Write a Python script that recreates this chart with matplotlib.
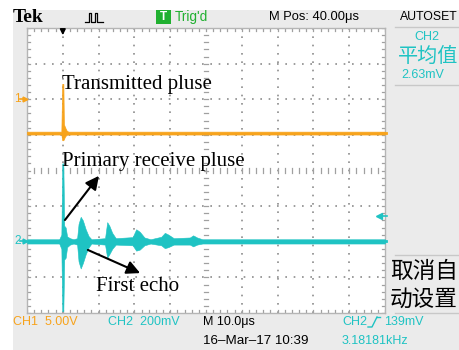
import matplotlib
matplotlib.use("Agg")
import matplotlib.pyplot as plt
from matplotlib.patches import Rectangle
from matplotlib.lines import Line2D

# ---------------- data (x in divisions, y in divisions) -------------
ch1_t  = [0.0, 0.96, 0.985, 1.0, 1.015, 1.03, 1.06, 1.10, 1.15, 10.0]
ch1_hi = [1.09, 1.09, 2.43, 2.43, 2.43, 1.30, 1.22, 1.13, 1.09, 1.09]
ch1_lo = [1.01, 1.01, 0.85, 0.85, 0.85, 0.88, 0.95, 1.00, 1.01, 1.01]

ch2_t  = [0.0, 0.90, 0.96, 0.985, 1.0, 1.015, 1.04, 1.08, 1.12, 1.20, 1.30, 1.40, 1.44,
          1.50, 1.56, 1.64, 1.72, 1.80, 2.18, 2.24, 2.30, 2.38, 2.48, 2.95, 3.05, 3.15,
          3.28, 3.45, 3.75, 3.85, 3.95, 4.10, 4.55, 4.64, 4.75, 4.90, 10.0]
ch2_hi = [-1.93, -1.93, -1.80, 0.20, 0.20, 0.20, -1.55, -1.60, -1.85, -1.90, -1.93, -1.90, -1.50,
          -1.30, -1.40, -1.65, -1.84, -1.93, -1.90, -1.45, -1.55, -1.75, -1.90, -1.87, -1.65, -1.72,
          -1.88, -1.93, -1.86, -1.75, -1.80, -1.90, -1.88, -1.82, -1.88, -1.93, -1.93]
ch2_lo = [-2.05, -2.05, -2.20, -3.95, -3.95, -3.95, -2.50, -2.45, -2.15, -2.08, -2.05, -2.08, -2.55,
          -2.75, -2.60, -2.35, -2.16, -2.05, -2.08, -2.45, -2.35, -2.20, -2.08, -2.10, -2.25, -2.22,
          -2.10, -2.05, -2.10, -2.18, -2.15, -2.08, -2.08, -2.13, -2.08, -2.05, -2.05]

labels = ["Transmitted pluse", "Primary receive pluse", "First echo"]
header = ["Tek", "Trig'd", "M Pos: 40.00\u03bcs", "AUTOSET"]
footer = ["CH1  5.00V", "CH2  200mV", "M 10.0\u03bcs", "16\u2013Mar\u201317 10:39", "CH2", "139mV", "3.18181kHz"]
side = ["CH2", "平均值", "2.63mV", "取消自", "动设置"]

# ---------------- style ----------------
ORANGE = "#f7a31c"
CYAN = "#1fc3c3"
GREEN = "#20b030"
BG = "#ebebeb"
W, H = 460, 350

UI = "Liberation Sans"
SERIF = "Liberation Serif"
CJK = ["Noto Sans CJK SC", "DejaVu Sans"]

fig = plt.figure(figsize=(W / 100, H / 100), dpi=100)
fig.patch.set_facecolor("white")


def fx(x):
    return x / W


def fy(y):
    return 1 - y / H


def ftext(x, y, s, **kw):
    kw.setdefault("va", "center")
    kw.setdefault("ha", "left")
    fig.text(fx(x), fy(y), s, **kw)


def fline(xs, ys, **kw):
    fig.add_artist(Line2D([fx(v) for v in xs], [fy(v) for v in ys], **kw))


def frect(x0, y0, x1, y1, **kw):
    fig.add_artist(Rectangle((fx(x0), fy(y1)), fx(x1) - fx(x0), fy(y0) - fy(y1), **kw))


# screen background
frect(13, 10, 460, 350, facecolor=BG, edgecolor="none", zorder=0)

# ---------------- graticule ----------------
gx0, gy0, gx1, gy1 = 27, 28, 385, 313
ax = fig.add_axes([fx(gx0), fy(gy1), fx(gx1) - fx(gx0), fy(gy0) - fy(gy1)])
ax.set_xlim(0, 10)
ax.set_ylim(-4, 4)
ax.set_facecolor("white")
ax.set_xticks([])
ax.set_yticks([])
for s in ax.spines.values():
    s.set_color("#b5b5b5")
    s.set_linewidth(1.0)

dot_kw = dict(color="#8c8c8c", linestyle=(0, (1, 4)), linewidth=1.2, zorder=1)
for gx in range(1, 10):
    if gx != 5:
        ax.plot([gx, gx], [-4, 4], **dot_kw)
for gy in range(-3, 4):
    if gy != 0:
        ax.plot([0, 10], [gy, gy], **dot_kw)
tick_c = "#a0a0a0"
k = 0
while k <= 50:
    v = k * 0.2
    ax.plot([v, v], [-0.06, 0.06], color=tick_c, lw=0.9, zorder=1)
    ax.plot([v, v], [3.92, 4.0], color=tick_c, lw=0.9, zorder=1)
    ax.plot([v, v], [-4.0, -3.92], color=tick_c, lw=0.9, zorder=1)
    k += 1
k = 0
while k <= 40:
    v = -4 + k * 0.2
    ax.plot([4.94, 5.06], [v, v], color=tick_c, lw=0.9, zorder=1)
    ax.plot([0, 0.08], [v, v], color=tick_c, lw=0.9, zorder=1)
    ax.plot([9.92, 10], [v, v], color=tick_c, lw=0.9, zorder=1)
    k += 1

# ---------------- traces ----------------
ax.fill_between(ch1_t, ch1_lo, ch1_hi, color=ORANGE, lw=0.5, edgecolor=ORANGE, zorder=3)
ax.fill_between(ch2_t, ch2_lo, ch2_hi, color=CYAN, lw=0.4, edgecolor=CYAN, zorder=3)

# trigger position arrow
ax.annotate("", xy=(1.0, 3.72), xytext=(1.0, 4.0),
            arrowprops=dict(arrowstyle="-|>", color="black", lw=1.2, mutation_scale=8),
            zorder=5)

# ---------------- annotations ----------------
tkw = dict(family=SERIF, fontsize=15, color="black", va="center", ha="left", zorder=6)
ax.text(0.98, 2.40, labels[0], **tkw)
ax.text(0.98, 0.24, labels[1], **tkw)
ax.text(1.93, -3.27, labels[2], **tkw)
akw = dict(arrowstyle="-|>", color="black", lw=1.5, mutation_scale=20, shrinkA=0, shrinkB=0)
ax.annotate("", xy=(2.01, -0.15), xytext=(1.06, -1.39), arrowprops=akw, zorder=6)
ax.annotate("", xy=(3.16, -2.88), xytext=(1.70, -2.23), arrowprops=akw, zorder=6)

# ---------------- channel markers ----------------
ftext(14, 99, "1", family=UI, fontsize=8.5, color=ORANGE)
fline([20, 25], [99, 99], color=ORANGE, lw=1.2)
fig.add_artist(Line2D([fx(25)], [fy(99)], marker=">", markersize=3.5, color=ORANGE))
ftext(14, 241, "2", family=UI, fontsize=8.5, color=CYAN)
fline([20, 25], [241, 241], color=CYAN, lw=1.2)
fig.add_artist(Line2D([fx(25)], [fy(241)], marker=">", markersize=3.5, color=CYAN))
fline([381, 387], [216, 216], color=CYAN, lw=1.2)
fig.add_artist(Line2D([fx(379)], [fy(216)], marker="<", markersize=4, color=CYAN))
fline([381, 386], [241, 241], color=CYAN, lw=2)
fline([381, 386], [133, 133], color=ORANGE, lw=2)

# ---------------- header ----------------
ftext(13, 18, header[0], family=SERIF, fontsize=14, fontweight="bold", color="black")
fline([85, 89, 89, 91, 91, 95, 95, 97, 97, 103], [22, 22, 13, 13, 22, 22, 13, 13, 22, 22],
      color="black", lw=0.9)
frect(156, 10, 171, 24, facecolor=GREEN, edgecolor="none")
ftext(163.5, 17, "T", family=UI, fontsize=8.5, color="white", ha="center", fontweight="bold")
ftext(175, 17, header[1], family=UI, fontsize=9.8, color=GREEN)
ftext(269, 17, header[2], family=UI, fontsize=9.3, color="black")
ftext(400, 17, header[3], family=UI, fontsize=8.8, color="black")

# ---------------- side panel ----------------
fline([395, 460], [27, 27], color="#c8c8c8", lw=1)
fline([395, 460], [85, 85], color="#c8c8c8", lw=1)
ftext(427, 37, side[0], family=UI, fontsize=9, color=CYAN, ha="center")
ftext(428, 56, side[1], family=CJK, fontsize=14.5, color=CYAN, ha="center")
ftext(423, 75, side[2], family=UI, fontsize=9, color=CYAN, ha="center")
fline([395, 460], [255, 255], color="#c8c8c8", lw=1)
fline([395, 460], [313, 313], color="#c8c8c8", lw=1)
ftext(390, 271, side[3], family=CJK, fontsize=16.3, color="black")
ftext(390, 299, side[4], family=CJK, fontsize=16.3, color="black")

# ---------------- footer ----------------
fkw = dict(family=UI, fontsize=9)
ftext(13, 322, footer[0], color=ORANGE, **fkw)
ftext(108, 322, footer[1], color=CYAN, **fkw)
ftext(203, 322, footer[2], color="black", **fkw)
ftext(203, 341, footer[3], color="black", fontsize=9.6, family=UI)
ftext(342, 322, footer[4], color=CYAN, **fkw)
fline([368, 372, 377], [327, 327, 317], color=CYAN, lw=1)
fline([377, 380], [317, 317], color=CYAN, lw=1)
ftext(384, 322, footer[5], color=CYAN, **fkw)
ftext(342, 341, footer[6], color=CYAN, **fkw)

fig.savefig("out.png", dpi=100, facecolor=fig.get_facecolor())
